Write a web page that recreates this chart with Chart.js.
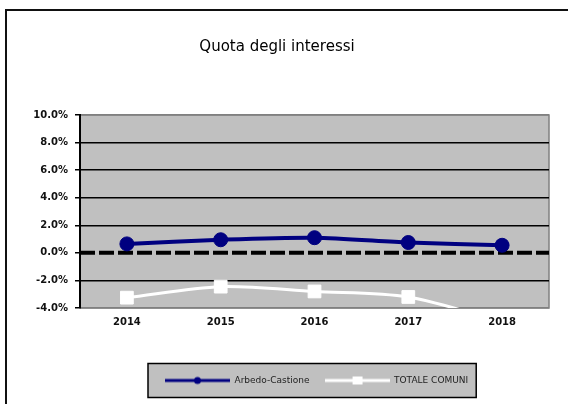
<!DOCTYPE html>
<html>
<head>
<meta charset="utf-8">
<script src="https://cdn.jsdelivr.net/npm/chart.js@4.4.0/dist/chart.umd.min.js"></script>
<style>
  body { margin: 0; background: #fff; }
  #wrap { position: relative; width: 568px; height: 404px; overflow: hidden; }
  #frame { position: absolute; left: 5px; top: 9px; width: 620px; height: 440px; border: 2px solid #111; }
  canvas { position: absolute; left: 0; top: 0; }
</style>
</head>
<body>
<div id="wrap">
  <div id="frame"></div>
  <canvas id="myChart" width="568" height="404"></canvas>
</div>
<script>
// data
var years = ['2014', '2015', '2016', '2017', '2018'];
var arbedo = [0.65, 0.95, 1.1, 0.75, 0.55];
var totaleComuni = [-3.25, -2.45, -2.8, -3.2, -5.0];
var seriesNames = ['Arbedo-Castione', 'TOTALE COMUNI'];
var yTicks = [-4, -2, 0, 2, 4, 6, 8, 10];

var FONT = "'DejaVu Sans', sans-serif";

// little line+marker images for the legend
function sample(color, marker) {
  var c = document.createElement('canvas');
  c.width = 65; c.height = 12;
  var g = c.getContext('2d');
  g.strokeStyle = color;
  g.lineWidth = 3;
  g.beginPath(); g.moveTo(0, 6); g.lineTo(65, 6); g.stroke();
  g.fillStyle = color;
  if (marker == 'circle') {
    g.beginPath(); g.arc(32.5, 6, 3.5, 0, Math.PI * 2); g.fill();
  } else {
    g.fillRect(28, 2, 10, 8);
  }
  return c;
}
var samples = [sample('#000080', 'circle'), sample('#ffffff', 'rect')];

var chartDeco = {
  id: 'chartDeco',
  afterLayout: function(chart) {
    // move the legend row so it starts where the original one does
    var lg = chart.legend;
    var pad = lg.options.labels.padding;
    var start = (lg.left + pad + lg.right - lg.lineWidths[0]) / 2;
    var dx = 165 - start;
    lg.left += dx; lg.right += dx;
  },
  beforeDraw: function(chart) {
    var ctx = chart.ctx, a = chart.chartArea;
    ctx.save();
    ctx.fillStyle = '#c0c0c0';
    ctx.fillRect(a.left, a.top, a.right - a.left, a.bottom - a.top);
    ctx.strokeStyle = '#808080';
    ctx.lineWidth = 1.5;
    ctx.strokeRect(a.left, a.top, a.right - a.left, a.bottom - a.top);

    // legend box
    var hb = chart.legend.legendHitBoxes;
    if (hb && hb.length) {
      var first = hb[0], last = hb[hb.length - 1];
      var cy = first.top + first.height / 2;
      var x0 = first.left - 17, x1 = last.left + last.width + 8;
      ctx.fillStyle = '#c0c0c0';
      ctx.fillRect(x0, cy - 17, x1 - x0, 34);
      ctx.strokeStyle = '#000';
      ctx.lineWidth = 1.5;
      ctx.strokeRect(x0, cy - 17, x1 - x0, 34);
    }
    ctx.restore();
  },
  beforeDatasetsDraw: function(chart) {
    var ctx = chart.ctx, a = chart.chartArea;
    var y = chart.scales.y.getPixelForValue(0);
    ctx.save();
    ctx.strokeStyle = '#000';
    ctx.lineWidth = 4;
    ctx.setLineDash([15, 4]);
    ctx.beginPath();
    ctx.moveTo(a.left, y);
    ctx.lineTo(a.right, y);
    ctx.stroke();
    ctx.restore();
  }
};

var ctx = document.getElementById('myChart');
new Chart(ctx, {
  type: 'line',
  data: {
    labels: years,
    datasets: [{
      label: seriesNames[0],
      data: arbedo,
      borderColor: '#000080',
      backgroundColor: '#000080',
      borderWidth: 4,
      pointRadius: 7,
      pointHoverRadius: 7,
      pointBorderWidth: 1,
      pointStyle: 'circle',
      tension: 0.25
    }, {
      label: seriesNames[1],
      data: totaleComuni,
      borderColor: '#ffffff',
      backgroundColor: '#ffffff',
      borderWidth: 3,
      pointRadius: 9,
      pointHoverRadius: 9,
      pointBorderWidth: 1,
      pointStyle: 'rect',
      tension: 0.3
    }]
  },
  options: {
    responsive: false,
    animation: false,
    layout: { padding: { left: 5, right: 19, top: 0, bottom: 9 } },
    plugins: {
      title: {
        display: true,
        text: 'Quota degli interessi',
        color: '#000',
        font: { family: FONT, size: 15, weight: 'normal' },
        padding: { top: 38, bottom: 59 }
      },
      legend: {
        position: 'bottom',
        labels: {
          color: '#222',
          font: { family: FONT, size: 9 },
          usePointStyle: true,
          pointStyleWidth: 65,
          padding: 15,
          generateLabels: function(chart) {
            return chart.data.datasets.map(function(ds, i) {
              return {
                text: ds.label,
                pointStyle: samples[i],
                fillStyle: ds.borderColor,
                strokeStyle: ds.borderColor,
                lineWidth: 0,
                fontColor: '#222',
                hidden: false,
                datasetIndex: i
              };
            });
          }
        }
      },
      tooltip: { enabled: false }
    },
    scales: {
      x: {
        offset: true,
        grid: { display: false, drawTicks: false },
        border: { display: false },
        ticks: { color: '#111', padding: 8, font: { family: FONT, size: 10, weight: 'bold' } },
        afterFit: function(s) { s.height = 53; }
      },
      y: {
        min: -4,
        max: 10,
        afterBuildTicks: function(s) { s.ticks = yTicks.map(function(v) { return { value: v }; }); },
        grid: {
          color: function(c) {
            if (c.tick.value == 0) return 'rgba(0,0,0,0)';
            if (c.tick.value == -4 || c.tick.value == 10) return '#808080';
            return '#000';
          },
          lineWidth: 1.5,
          tickColor: '#000',
          tickLength: 5
        },
        border: { color: '#000', width: 2 },
        ticks: {
          color: '#111',
          padding: 7,
          font: { family: FONT, size: 10, weight: 'bold' },
          callback: function(v) { return v.toFixed(1) + '%'; }
        },
        afterFit: function(s) { s.width = 75; }
      }
    }
  },
  plugins: [chartDeco]
});
</script>
</body>
</html>
